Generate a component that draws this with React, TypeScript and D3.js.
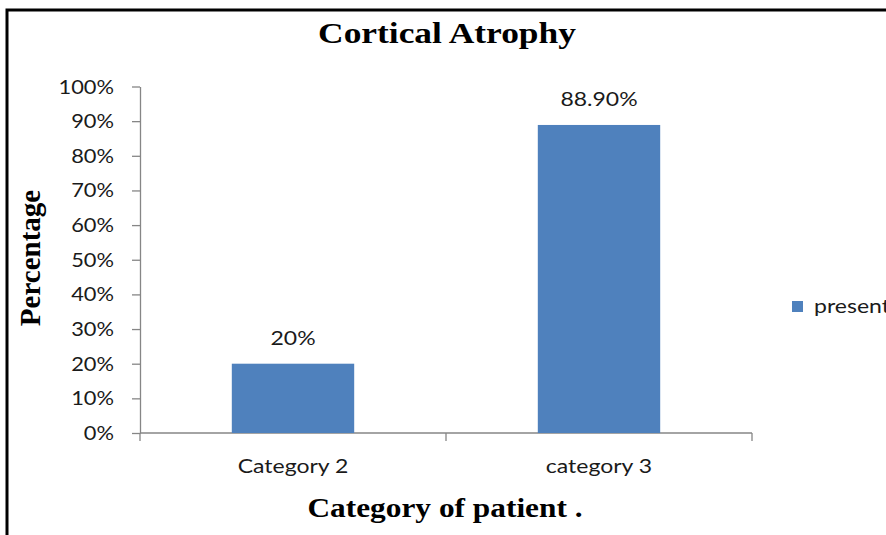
import * as React from 'react'
import { useEffect, useRef } from 'react'
import * as d3 from 'd3'

const categories = ['Category 2', 'category 3']
const present = [20, 88.9]
const valueLabels = ['20%', '88.90%']
const yTicks = [0, 10, 20, 30, 40, 50, 60, 70, 80, 90, 100]
const seriesName = 'present'

const W = 886
const H = 535
const BAR = '#4F81BD'
const AXIS = '#868686'
const SANS = 'Lato, "Open Sans", sans-serif'
const SERIF = '"Liberation Serif", "Times New Roman", serif'

const App = () => {
  const ref = useRef<SVGSVGElement | null>(null)

  useEffect(() => {
    const svg = d3.select(ref.current)
    svg.selectAll('*').remove()

    // frame (only top + left show in the crop)
    svg.append('path')
      .attr('d', `M7,${H} L7,10 L${W},10`)
      .attr('fill', 'none')
      .attr('stroke', '#000')
      .attr('stroke-width', 3)

    const x = d3.scaleBand<string>()
      .domain(categories)
      .range([140, 752])
      .paddingInner(0.6)
      .paddingOuter(0.3)

    const y = d3.scaleLinear().domain([0, 100]).range([433, 86.5])

    // title
    svg.append('text')
      .attr('transform', 'translate(447,43) scale(1.18,1)')
      .attr('text-anchor', 'middle')
      .attr('font-family', SERIF)
      .attr('font-weight', 'bold')
      .attr('font-size', 30)
      .text('Cortical Atrophy')

    // y axis
    const gy = svg.append('g')
      .attr('transform', 'translate(140,0)')
      .call(d3.axisLeft(y).tickValues(yTicks).tickSize(8).tickSizeOuter(0)
        .tickFormat(d => `${d}%`))
    gy.select('.domain').attr('stroke', AXIS).attr('stroke-width', 1.3)
    gy.selectAll('.tick line').attr('stroke', AXIS).attr('stroke-width', 1.3)
    gy.selectAll('.tick text')
      .attr('x', null)
      .attr('dy', null)
      .attr('transform', 'translate(-26,6.5) scale(1.15,1)')
      .attr('text-anchor', 'end')
      .attr('font-family', SANS)
      .attr('font-size', 19)
      .attr('fill', '#1a1a1a')

    // x axis
    const [x0, x1] = x.range()
    const bounds = [x0, ...categories.slice(1).map(c => (x(c) as number) - x.step() * x.paddingInner() / 2), x1]
    const gx = svg.append('g').attr('transform', `translate(0,${y(0)})`)
    gx.append('line')
      .attr('x1', x0).attr('x2', x1)
      .attr('stroke', AXIS).attr('stroke-width', 1.3)
    gx.selectAll('line.tk')
      .data(bounds)
      .enter()
      .append('line')
      .attr('class', 'tk')
      .attr('x1', d => d).attr('x2', d => d)
      .attr('y1', 0).attr('y2', 8)
      .attr('stroke', AXIS).attr('stroke-width', 1.3)
    gx.selectAll('text')
      .data(categories)
      .enter()
      .append('text')
      .attr('transform', d => `translate(${(x(d) as number) + x.bandwidth() / 2},40) scale(1.15,1)`)
      .attr('text-anchor', 'middle')
      .attr('font-family', SANS)
      .attr('font-size', 20)
      .attr('fill', '#1a1a1a')
      .text(d => d)

    // bars
    svg.selectAll('.bar')
      .data(categories)
      .enter()
      .append('rect')
      .attr('class', 'bar')
      .attr('x', d => x(d) as number)
      .attr('y', (d, i) => y(present[i]))
      .attr('width', x.bandwidth())
      .attr('height', (d, i) => y(0) - y(present[i]))
      .attr('fill', BAR)

    // value labels
    svg.selectAll('.val')
      .data(categories)
      .enter()
      .append('text')
      .attr('class', 'val')
      .attr('transform', (d, i) => `translate(${(x(d) as number) + x.bandwidth() / 2},${y(present[i]) - 19}) scale(1.15,1)`)
      .attr('text-anchor', 'middle')
      .attr('font-family', SANS)
      .attr('font-size', 20)
      .attr('fill', '#1a1a1a')
      .text((d, i) => valueLabels[i])

    // y title
    svg.append('text')
      .attr('transform', 'translate(40,258) rotate(-90)')
      .attr('text-anchor', 'middle')
      .attr('font-family', SERIF)
      .attr('font-weight', 'bold')
      .attr('font-size', 29)
      .text('Percentage')

    // x title
    svg.append('text')
      .attr('transform', 'translate(445,517) scale(1.12,1)')
      .attr('text-anchor', 'middle')
      .attr('font-family', SERIF)
      .attr('font-weight', 'bold')
      .attr('font-size', 28)
      .text('Category of patient .')

    // legend
    const lg = svg.append('g').attr('transform', 'translate(792,301)')
    lg.append('rect').attr('width', 11).attr('height', 11).attr('fill', BAR)
    lg.append('text')
      .attr('transform', 'translate(22,12) scale(1.15,1)')
      .attr('font-family', SANS)
      .attr('font-size', 20)
      .attr('fill', '#1a1a1a')
      .text(seriesName)
  }, [])

  return (
    <svg
      ref={ref}
      width={W}
      height={H}
      style={{ position: 'absolute', left: 0, top: 0, background: '#fff' }}
    />
  )
}

export default App
